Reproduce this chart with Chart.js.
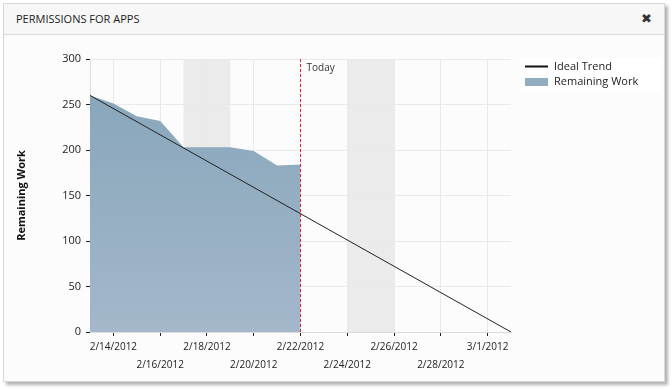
<!DOCTYPE html>
<html>
<head>
<meta charset="utf-8">
<script src="https://cdn.jsdelivr.net/npm/chart.js@4.4.1/dist/chart.umd.min.js"></script>
<style>
  html, body { margin: 0; padding: 0; width: 672px; height: 389px; background: #fff; overflow: hidden; }
  .panel {
    position: absolute; left: 3px; top: 3px; width: 660px; height: 377px;
    border: 1px solid #d8d8d8; background: #fcfcfc;
    box-shadow: 3px 3px 3px rgba(0,0,0,0.3);
  }
  .head {
    height: 30px; background: #f7f7f7; border-bottom: 1px solid #dadada;
    font-family: "Open Sans", sans-serif; font-size: 11px; color: #222;
    line-height: 30px; padding-left: 12px; position: relative;
  }
  .close {
    position: absolute; right: 12px; top: 0; font-family: "DejaVu Sans", sans-serif;
    font-size: 13px; font-weight: bold; color: #333;
  }
  canvas { position: absolute; left: 0; top: 0; pointer-events: none; }
</style>
</head>
<body>
<div class="panel">
  <div class="head">PERMISSIONS FOR APPS<span class="close">✖</span></div>
</div>
<canvas id="burndown" width="672" height="389"></canvas>
<script>
// days counted from 2/13/2012
const remainingDays = [0, 1, 2, 3, 4, 5, 6, 7, 8, 9];
const remainingWork = [260, 251, 237, 232, 203, 203, 203, 199, 183, 184];
const idealDays = [0, 18];
const idealWork = [260, 0];
const tickDays = [1, 3, 5, 7, 9, 11, 13, 15, 17];
const tickLabels = ['2/14/2012', '2/16/2012', '2/18/2012', '2/20/2012', '2/22/2012',
  '2/24/2012', '2/26/2012', '2/28/2012', '3/1/2012'];
const weekends = [[4, 6], [11, 13]];
const todayDay = 9;

const FONT = '"Open Sans", sans-serif';

const extras = {
  id: 'extras',
  beforeDraw(chart) {
    const { ctx, chartArea, scales } = chart;
    ctx.save();
    ctx.fillStyle = '#ebebeb';
    weekends.forEach(([a, b]) => {
      const x1 = scales.x.getPixelForValue(a);
      const x2 = scales.x.getPixelForValue(b);
      ctx.fillRect(x1, chartArea.top, x2 - x1, chartArea.bottom - chartArea.top);
    });
    ctx.restore();
  },
  afterDatasetsDraw(chart) {
    const { ctx, chartArea, scales } = chart;
    const x = Math.round(scales.x.getPixelForValue(todayDay) - 0.5) + 0.5;
    ctx.save();
    ctx.strokeStyle = '#e8203c';
    ctx.lineWidth = 1;
    ctx.setLineDash([3, 2]);
    ctx.beginPath();
    ctx.moveTo(x, chartArea.top);
    ctx.lineTo(x, chartArea.bottom);
    ctx.stroke();
    ctx.setLineDash([]);
    ctx.fillStyle = '#333';
    ctx.font = '10px ' + FONT;
    ctx.textBaseline = 'middle';
    ctx.fillText('Today', x + 6, chartArea.top + 9);

    // legend
    ctx.fillStyle = '#ffffff';
    ctx.fillRect(520, 58, 142, 34);
    ctx.strokeStyle = '#111';
    ctx.lineWidth = 2;
    ctx.beginPath();
    ctx.moveTo(525, 66.5);
    ctx.lineTo(548, 66.5);
    ctx.stroke();
    ctx.fillStyle = '#93adc0';
    ctx.fillRect(525, 78, 23, 8);
    ctx.fillStyle = '#222';
    ctx.font = '11px ' + FONT;
    ctx.fillText(chart.data.datasets[0].label, 554, 67);
    ctx.fillText(chart.data.datasets[1].label, 554, 82);
    ctx.restore();
  }
};

new Chart(document.getElementById('burndown'), {
  type: 'line',
  data: {
    datasets: [
      {
        label: 'Ideal Trend',
        data: idealDays.map((d, i) => ({ x: d, y: idealWork[i] })),
        borderColor: '#222',
        borderWidth: 1,
        pointRadius: 0,
        fill: false
      },
      {
        label: 'Remaining Work',
        data: remainingDays.map((d, i) => ({ x: d, y: remainingWork[i] })),
        borderWidth: 0,
        pointRadius: 0,
        fill: 'origin',
        backgroundColor: (c) => {
          const area = c.chart.chartArea;
          if (!area) return '#93adc0';
          const g = c.chart.ctx.createLinearGradient(0, area.top, 0, area.bottom);
          g.addColorStop(0, '#84a4b8');
          g.addColorStop(1, '#a4b7cb');
          return g;
        }
      }
    ]
  },
  options: {
    responsive: false,
    animation: false,
    layout: { padding: { left: 0, top: 59, right: 161, bottom: 0 } },
    plugins: { legend: { display: false }, tooltip: { enabled: false } },
    scales: {
      x: {
        type: 'linear',
        min: 0,
        max: 18,
        afterFit: (s) => { s.height = 57; },
        afterBuildTicks: (s) => { s.ticks = tickDays.map(v => ({ value: v })); },
        grid: { color: '#e9e9e9', tickColor: '#222', tickLength: 4, lineWidth: 1 },
        border: { color: '#dcdcdc' },
        ticks: {
          autoSkip: false,
          maxRotation: 0,
          padding: 2,
          color: '#222',
          font: { family: FONT, size: 10, lineHeight: '18px' },
          callback: (v) => {
            const i = tickDays.indexOf(v);
            return i % 2 === 0 ? [tickLabels[i]] : ['', tickLabels[i]];
          }
        }
      },
      y: {
        min: 0,
        max: 300,
        afterFit: (s) => { s.width = 90; },
        grid: { color: '#e9e9e9', tickColor: '#222', tickLength: 4 },
        border: { color: '#dcdcdc' },
        ticks: { stepSize: 50, padding: 5, color: '#222', font: { family: FONT, size: 11 } },
        title: {
          display: true,
          text: 'Remaining Work',
          color: '#111',
          padding: { top: 15, bottom: 0 },
          font: { family: FONT, size: 11, weight: 'bold' }
        }
      }
    }
  },
  plugins: [extras]
});
</script>
</body>
</html>
